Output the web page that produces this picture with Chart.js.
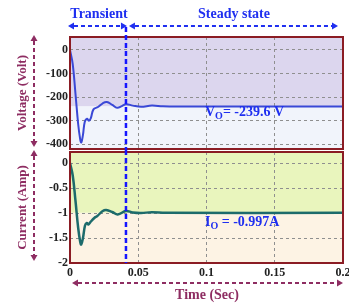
<!DOCTYPE html>
<html>
<head>
<meta charset="utf-8">
<script src="https://cdn.jsdelivr.net/npm/chart.js"></script>
<style>
  body { margin: 0; background: #fff; }
  #wrap { position: relative; width: 349px; height: 306px; overflow: hidden; }
  canvas { position: absolute; left: 0; }
  #top { top: 0; }
  #bot { top: 150px; }
</style>
</head>
<body>
<div id="wrap">
  <canvas id="top" width="349" height="150"></canvas>
  <canvas id="bot" width="349" height="156"></canvas>
</div>
<script>
// values
const timeTicks = [0, 0.05, 0.1, 0.15, 0.2];
const voltTicks = [0, -100, -200, -300, -400];
const ampTicks = [0, -0.5, -1, -1.5, -2];

const voltT = [0, 0.002, 0.004, 0.006, 0.0075, 0.0083, 0.0095, 0.0108, 0.0125, 0.0138, 0.0152, 0.0172, 0.0205, 0.024, 0.027, 0.031, 0.0345, 0.038, 0.041, 0.046, 0.052, 0.06, 0.068, 0.08, 0.1, 0.2];
const voltV = [0, -60, -185, -315, -380, -392, -360, -305, -292, -300, -290, -252, -242, -226, -221, -233, -245, -238, -230, -236, -241, -236, -239, -240, -239.6, -239.6];

const ampT = [0, 0.002, 0.004, 0.006, 0.0075, 0.0082, 0.0095, 0.011, 0.0123, 0.0135, 0.015, 0.0178, 0.02, 0.024, 0.0265, 0.031, 0.035, 0.041, 0.046, 0.052, 0.06, 0.07, 0.2];
const ampV = [0, -0.25, -0.75, -1.3, -1.58, -1.63, -1.5, -1.25, -1.2, -1.23, -1.18, -1.1, -1.06, -0.96, -0.94, -0.98, -1.03, -0.96, -0.99, -1.0, -0.985, -0.997, -0.997];

const vSteady = -239.6;
const iSteady = -0.997;
const tSplit = 0.041;

const FONT = '"Liberation Serif", "DejaVu Serif", serif';
const BLUE = '#1f2ff0';
const MAG = '#8e2d62';
const BORDER = '#8b1c24';

function dashedArrow(ctx, x1, y1, x2, y2, color) {
    ctx.save();
    ctx.strokeStyle = color;
    ctx.fillStyle = color;
    ctx.lineWidth = 2;
    ctx.setLineDash([4, 3]);
    const ang = Math.atan2(y2 - y1, x2 - x1);
    const h = 6;
    ctx.beginPath();
    ctx.moveTo(x1 + Math.cos(ang) * h, y1 + Math.sin(ang) * h);
    ctx.lineTo(x2 - Math.cos(ang) * h, y2 - Math.sin(ang) * h);
    ctx.stroke();
    ctx.setLineDash([]);
    [[x1, y1, ang + Math.PI], [x2, y2, ang]].forEach(([x, y, a]) => {
        ctx.beginPath();
        ctx.moveTo(x, y);
        ctx.lineTo(x - Math.cos(a) * h - Math.sin(a) * 3.5, y - Math.sin(a) * h + Math.cos(a) * 3.5);
        ctx.lineTo(x - Math.cos(a) * h + Math.sin(a) * 3.5, y - Math.sin(a) * h - Math.cos(a) * 3.5);
        ctx.closePath();
        ctx.fill();
    });
    ctx.restore();
}

function subLabel(ctx, x, y, main, sub, rest) {
    ctx.save();
    ctx.fillStyle = BLUE;
    ctx.textBaseline = 'alphabetic';
    ctx.font = 'bold 14px ' + FONT;
    ctx.fillText(main, x, y);
    let w = ctx.measureText(main).width;
    ctx.font = 'bold 10px ' + FONT;
    ctx.fillText(sub, x + w, y + 3);
    w += ctx.measureText(sub).width;
    ctx.font = 'bold 14px ' + FONT;
    ctx.fillText(rest, x + w, y);
    ctx.restore();
}

function noPad(s) {
    s.paddingLeft = 0; s.paddingRight = 0; s.paddingTop = 0; s.paddingBottom = 0;
}

// background bands split at the steady value, border, marker line, labels
const panelPlugin = {
    id: 'panel',
    beforeDraw(chart, args, opts) {
        const { ctx, chartArea: a, scales } = chart;
        const ys = scales.y.getPixelForValue(opts.split);
        ctx.save();
        ctx.fillStyle = opts.upper;
        ctx.fillRect(a.left, a.top, a.right - a.left, ys - a.top);
        ctx.fillStyle = opts.lower;
        ctx.fillRect(a.left, ys, a.right - a.left, a.bottom - ys);
        ctx.restore();
    },
    afterDraw(chart, args, opts) {
        const { ctx, chartArea: a, scales } = chart;
        ctx.save();
        ctx.strokeStyle = BORDER;
        ctx.lineWidth = 2;
        ctx.strokeRect(a.left, a.top, a.right - a.left, a.bottom - a.top);
        // transient / steady split line
        const xs = scales.x.getPixelForValue(tSplit);
        ctx.strokeStyle = '#1515ff';
        ctx.lineWidth = 2.5;
        ctx.setLineDash([5, 3]);
        ctx.beginPath();
        ctx.moveTo(xs, opts.lineTop);
        ctx.lineTo(xs, opts.lineBottom === undefined ? a.bottom : opts.lineBottom);
        ctx.stroke();
        ctx.setLineDash([]);
        // y title + arrow
        ctx.translate(23, (a.top + a.bottom) / 2);
        ctx.rotate(-Math.PI / 2);
        ctx.fillStyle = MAG;
        ctx.font = 'bold 13px ' + FONT;
        ctx.textAlign = 'center';
        ctx.textBaseline = 'middle';
        ctx.fillText(opts.title, 0, 0);
        ctx.restore();
        dashedArrow(ctx, 34, a.top - 2, 34, a.bottom - 2, MAG);
        opts.extra && opts.extra(ctx, chart, xs);
    }
};

function baseOptions(yMin, yMax, yTicks, showX) {
    return {
        responsive: false,
        animation: false,
        events: [],
        plugins: { legend: { display: false }, tooltip: { enabled: false } },
        scales: {
            x: {
                type: 'linear', min: 0, max: 0.2,
                afterBuildTicks: s => { s.ticks = timeTicks.map(v => ({ value: v })); },
                afterFit: s => { s.height = showX ? 43 : 0; noPad(s); },
                grid: { color: '#8f8f8f', lineWidth: 1, drawTicks: false },
                border: { display: false, dash: [3, 3] },
                ticks: {
                    display: showX, padding: 3, color: '#222', maxRotation: 0,
                    font: { family: FONT, size: 12, weight: 'bold' },
                    callback: v => String(v)
                }
            },
            y: {
                min: yMin, max: yMax,
                afterBuildTicks: s => { s.ticks = yTicks.map(v => ({ value: v })); },
                afterFit: s => { s.width = 70; noPad(s); },
                grid: { color: '#8f8f8f', lineWidth: 1, drawTicks: false },
                border: { display: false, dash: [3, 3] },
                ticks: {
                    padding: 2, color: '#222',
                    font: { family: FONT, size: 12, weight: 'bold' },
                    callback: v => String(v)
                }
            }
        }
    };
}

const topOpts = baseOptions(-420, 55, voltTicks, false);
topOpts.layout = { padding: { left: 0, right: 6, top: 37, bottom: 1 } };
topOpts.plugins.panel = {
    split: vSteady, upper: '#dcd6ee', lower: '#f1f4fb',
    title: 'Voltage (Volt)', lineTop: 27, lineBottom: 150,
    extra: (ctx, chart, xs) => {
        ctx.save();
        ctx.fillStyle = BLUE;
        ctx.font = 'bold 14px ' + FONT;
        ctx.textAlign = 'center';
        ctx.textBaseline = 'middle';
        ctx.fillText('Transient', 99, 14);
        ctx.fillText('Steady state', 234, 14);
        ctx.restore();
        dashedArrow(ctx, 68, 26, xs + 1, 26, BLUE);
        dashedArrow(ctx, xs + 3, 26, 338, 26, BLUE);
        subLabel(ctx, 205, 116, 'V', 'O', '= -239.6 V');
    }
};

new Chart(document.getElementById('top'), {
    type: 'line',
    data: {
        datasets: [{
            data: voltT.map((t, i) => ({ x: t, y: voltV[i] })),
            borderColor: '#3a48d6', borderWidth: 2, pointRadius: 0,
            tension: 0.4, fill: false
        }]
    },
    options: topOpts,
    plugins: [panelPlugin]
});

const botOpts = baseOptions(-2, 0.22, ampTicks, true);
botOpts.layout = { padding: { left: 0, right: 6, top: 2, bottom: 0 } };
botOpts.plugins.panel = {
    split: iSteady, upper: '#e9f5bd', lower: '#fdf3e4',
    title: 'Current (Amp)', lineTop: 0,
    extra: (ctx, chart) => {
        subLabel(ctx, 205, 76, 'I', 'O', ' = -0.997A');
        dashedArrow(ctx, 72, 133, 343, 133, MAG);
        ctx.save();
        ctx.fillStyle = MAG;
        ctx.font = 'bold 14px ' + FONT;
        ctx.textAlign = 'center';
        ctx.textBaseline = 'middle';
        ctx.fillText('Time (Sec)', 207, 145);
        ctx.restore();
    }
};

new Chart(document.getElementById('bot'), {
    type: 'line',
    data: {
        datasets: [{
            data: ampT.map((t, i) => ({ x: t, y: ampV[i] })),
            borderColor: '#1d6b6b', borderWidth: 2.5, pointRadius: 0,
            tension: 0.4, fill: false
        }]
    },
    options: botOpts,
    plugins: [panelPlugin]
});
</script>
</body>
</html>
